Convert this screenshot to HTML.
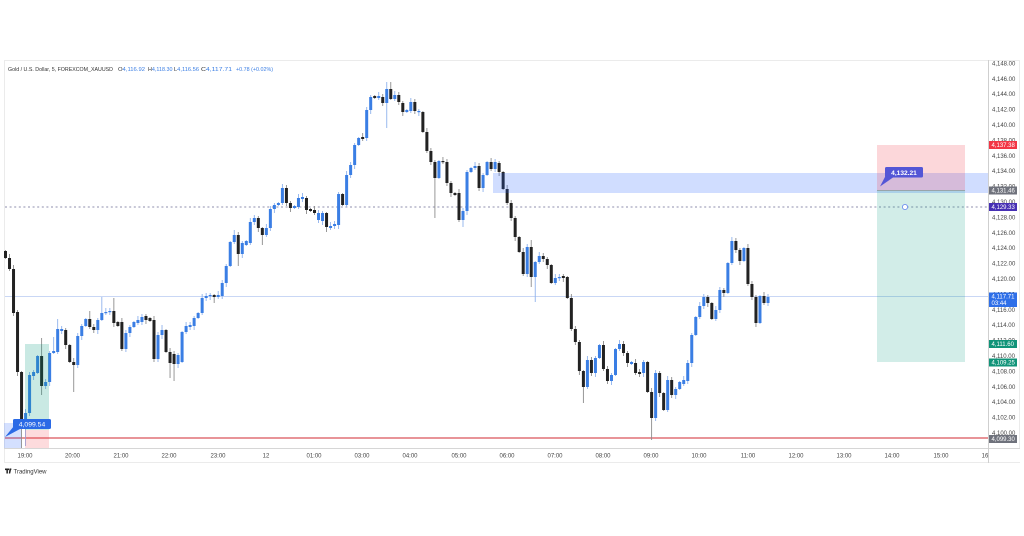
<!DOCTYPE html>
<html>
<head>
<meta charset="utf-8">
<style>
  html,body{margin:0;padding:0;background:#fff;}
  svg{display:block;}
  text{font-family:"Liberation Sans",sans-serif;}
</style>
</head>
<body>
<svg id="chart" width="1024" height="536" viewBox="0 0 1024 536" xmlns="http://www.w3.org/2000/svg">
  <rect x="0" y="0" width="1024" height="536" fill="#ffffff"/>
  <!-- frame -->
  <rect x="4.5" y="60.5" width="1015" height="402" fill="none" stroke="#ebebeb" stroke-width="1"/>
  <line x1="4" y1="448.5" x2="1020" y2="448.5" stroke="#d6d6d6" stroke-width="1"/>
  <line x1="988.5" y1="60" x2="988.5" y2="463" stroke="#cfcfcf" stroke-width="1"/>

  <!-- horizontal lines -->
  <line x1="5" y1="296.5" x2="988" y2="296.5" stroke="#c9d7f5" stroke-width="1"/>
  <line x1="5" y1="207" x2="988" y2="207" stroke="#8f8fae" stroke-width="0.9" stroke-dasharray="2 2.6"/>
  <line x1="5" y1="438" x2="988" y2="438" stroke="#d9545b" stroke-width="1.2"/>

  <!-- candles -->
  <g id="candles"></g>

  <!-- left position tool -->
  <rect x="4" y="423" width="17" height="25" fill="rgba(41,98,255,0.2)"/>
  <rect x="25" y="344" width="24" height="86" fill="rgba(8,153,129,0.22)"/>
  <rect x="25" y="430" width="24" height="18" fill="rgba(242,54,69,0.18)"/>

  <!-- blue zone -->
  <rect x="493" y="173" width="495" height="20" fill="rgba(41,98,255,0.22)"/>

  <!-- risk/reward box -->
  <rect x="877" y="145" width="88" height="45.5" fill="rgba(242,54,69,0.2)"/>
  <rect x="877" y="190.5" width="88" height="171.5" fill="rgba(8,153,129,0.18)"/>
  <line x1="877" y1="190.5" x2="965" y2="190.5" stroke="#8a9a98" stroke-width="0.8"/>
  <circle cx="905" cy="207" r="2.6" fill="#fff" stroke="#6f90ee" stroke-width="0.9"/>

  <!-- callout 4,132.21 -->
  <polygon points="886,175 893,177.5 880,186.5" fill="#5356d6"/>
  <rect x="885" y="167" width="38" height="10.5" rx="1.5" fill="#5356d6"/>
  <text x="904" y="174.8" font-size="6.6" font-weight="bold" fill="#ffffff" text-anchor="middle">4,132.21</text>

  <!-- callout 4,099.54 -->
  <polygon points="14,426 20,429 5,437" fill="#2a6ae6"/>
  <rect x="13" y="419" width="38" height="10" rx="1.5" fill="#2a6ae6"/>
  <text x="32" y="426.6" font-size="6.8" fill="#ffffff" text-anchor="middle">4,099.54</text>

  <!-- title -->
  <text x="8" y="71" font-size="5.6" fill="#333" textLength="105" lengthAdjust="spacingAndGlyphs">Gold / U.S. Dollar, 5, FOREXCOM_XAUUSD</text>
  <text x="118" y="71" font-size="5.6" fill="#333" textLength="27" lengthAdjust="spacingAndGlyphs">O<tspan fill="#3a7ee4">4,116.92</tspan></text>
  <text x="148" y="71" font-size="5.6" fill="#333" textLength="24.5" lengthAdjust="spacingAndGlyphs">H<tspan fill="#3a7ee4">4,118.30</tspan></text>
  <text x="174" y="71" font-size="5.6" fill="#333" textLength="25" lengthAdjust="spacingAndGlyphs">L<tspan fill="#3a7ee4">4,116.56</tspan></text>
  <text x="201" y="71" font-size="5.6" fill="#333" textLength="31" lengthAdjust="spacingAndGlyphs">C<tspan fill="#3a7ee4">4,117.71</tspan></text>
  <text x="236" y="71" font-size="5.6" fill="#3a7ee4" textLength="37" lengthAdjust="spacingAndGlyphs">+0.78 (+0.02%)</text>

  <!-- price axis labels -->
  <g font-size="6" fill="#444">
    <text x="992" y="65.4">4,148.00</text>
    <text x="992" y="80.8">4,146.00</text>
    <text x="992" y="96.2">4,144.00</text>
    <text x="992" y="111.6">4,142.00</text>
    <text x="992" y="127">4,140.00</text>
    <text x="992" y="142.4">4,138.00</text>
    <text x="992" y="157.8">4,136.00</text>
    <text x="992" y="173.2">4,134.00</text>
    <text x="992" y="188.6">4,132.00</text>
    <text x="992" y="204">4,130.00</text>
    <text x="992" y="219.4">4,128.00</text>
    <text x="992" y="234.8">4,126.00</text>
    <text x="992" y="250.2">4,124.00</text>
    <text x="992" y="265.6">4,122.00</text>
    <text x="992" y="281">4,120.00</text>
    <text x="992" y="296.4">4,118.00</text>
    <text x="992" y="311.8">4,116.00</text>
    <text x="992" y="327.2">4,114.00</text>
    <text x="992" y="342.6">4,112.00</text>
    <text x="992" y="358">4,110.00</text>
    <text x="992" y="373.4">4,108.00</text>
    <text x="992" y="388.8">4,106.00</text>
    <text x="992" y="404.2">4,104.00</text>
    <text x="992" y="419.6">4,102.00</text>
    <text x="992" y="435">4,100.00</text>
  </g>

  <!-- price tags -->
  <g font-size="6" fill="#fff">
    <rect x="989" y="141" width="28" height="8" fill="#f23645"/>
    <text x="991.5" y="147.2">4,137.38</text>
    <rect x="989" y="186.5" width="28" height="8" fill="#6f727c"/>
    <text x="991.5" y="192.7">4,131.46</text>
    <rect x="989" y="203" width="28" height="8" fill="#4630b4"/>
    <text x="991.5" y="209.2">4,129.33</text>
    <rect x="989" y="292.5" width="28" height="14.5" fill="#2f6fe8"/>
    <text x="991.5" y="298.6">4,117.71</text>
    <text x="991.5" y="305.2">03:44</text>
    <rect x="989" y="340" width="28" height="8" fill="#119479"/>
    <text x="991.5" y="346.2">4,111.60</text>
    <rect x="989" y="358.5" width="28" height="8" fill="#119479"/>
    <text x="991.5" y="364.7">4,109.25</text>
    <rect x="989" y="435" width="28" height="8" fill="#6f727c"/>
    <text x="991.5" y="441.2">4,099.30</text>
  </g>

  <!-- time axis -->
  <g font-size="6" fill="#444" text-anchor="middle">
    <text x="25" y="457.5">19:00</text>
    <text x="72.5" y="457.5">20:00</text>
    <text x="121" y="457.5">21:00</text>
    <text x="169" y="457.5">22:00</text>
    <text x="218" y="457.5">23:00</text>
    <text x="266" y="457.5">12</text>
    <text x="314" y="457.5">01:00</text>
    <text x="362" y="457.5">03:00</text>
    <text x="410" y="457.5">04:00</text>
    <text x="459" y="457.5">05:00</text>
    <text x="507" y="457.5">06:00</text>
    <text x="555" y="457.5">07:00</text>
    <text x="603" y="457.5">08:00</text>
    <text x="651" y="457.5">09:00</text>
    <text x="699" y="457.5">10:00</text>
    <text x="748" y="457.5">11:00</text>
    <text x="796" y="457.5">12:00</text>
    <text x="844" y="457.5">13:00</text>
    <text x="892" y="457.5">14:00</text>
    <text x="941" y="457.5">15:00</text>
    <text x="985" y="457.5">16</text>
  </g>
  <rect x="989" y="449" width="31" height="13" fill="#fff"/>

  <!-- TradingView logo -->
  <g fill="#222">
    <rect x="5" y="468.5" width="4" height="1.6"/>
    <rect x="6.4" y="468.5" width="1.5" height="5"/>
    <polygon points="9.5,468.5 11.3,468.5 10.2,473.5 8.8,473.5"/>
    <circle cx="10.6" cy="469.2" r="0.8"/>
  </g>
  <text x="13.5" y="473.5" font-size="6" fill="#333">TradingView</text>
</svg>
<script>
(function(){
  var u='u',d='d',n=null;
  var D=[
[251,258,d],[258,269,d],[269,313,d,265],[312,372,d],[372,422,d,n,448],[413,422,u,n,446],[375,413,u],[372,376,u],[356,373,u],[356,386,d,338,395],
[382,386,u],[353,382,u],[351,353,u,337],[329,352,u,319],[329,331,u],[330,345,d],[345,362,d],[362,365,d,n,392],[336,365,u],[326,336,u],
[319,326,u],[319,327,d,311],[327,330,d],[320,330,u],[313,320,u,297],[312,313,u],[311,312,u],[311,323,d,298],[322,326,d],[322,349,d],
[333,349,u],[327,333,u],[322,327,u],[320,323,u],[317,322,u],[316,320,d],[318,321,d],[320,359,d,n,362],[335,359,u],[330,335,u,325],
[330,352,d],[352,363,d,n,378],[354,364,d,n,381],[355,364,u],[332,362,u],[326,332,u],[325,327,u],[318,326,u],[313,318,u],[298,313,u],
[296,298,u],[295,296,u],[295,297,d,n,303],[295,297,u],[283,296,u],[266,283,u],[242,266,u],[235,242,u,230],[235,254,d,n,266],[243,254,u],
[241,245,u],[222,243,u],[218,222,u],[218,228,d],[228,235,d,n,245],[228,235,u],[209,228,u],[205,209,u],[203,205,u],[188,203,u],
[188,203,d],[203,208,d],[206,208,u],[198,207,u],[197,199,u,193],[198,210,d],[209,211,d],[210,213,d],[213,220,u],[213,221,u],
[213,227,d,n,232],[226,228,u],[224,226,u],[194,225,u],[194,205,d],[175,205,u],[165,175,u],[145,165,u],[138,145,u],[137,139,d],
[110,138,u],[97,110,u],[96,98,d],[96,98,u],[97,103,d],[89,103,u,82,128],[89,99,d,82],[95,99,u],[95,102,d],[103,112,d],
[110,112,u],[102,111,u],[102,111,d],[111,112,u],[112,132,d],[132,151,d],[151,162,d],[162,178,d,n,218],[161,178,u],[161,162,d],
[162,183,d],[183,193,d],[193,195,d],[193,220,d],[211,220,u,n,227],[172,211,u],[168,172,u],[166,168,u],[166,188,d],[175,188,u],
[162,175,u],[162,169,d],[162,169,u],[163,172,d],[172,189,d],[189,203,d],[203,218,d],[218,237,d],[237,252,d],[252,274,d],
[247,274,u],[247,277,d,240,287],[262,277,u,n,302],[256,262,u],[256,259,d],[259,265,d],[265,283,d],[278,283,u],[277,278,u],[276,278,d],
[277,298,d],[298,329,d],[329,342,d],[342,371,d],[371,387,d,n,403],[360,387,u],[360,373,d],[358,373,u],[345,358,u],[345,369,d],
[369,381,d],[375,381,u],[349,375,u],[344,349,u],[344,353,d],[353,363,d],[362,364,u],[363,373,d],[372,374,d],[362,373,u],
[362,392,d],[392,418,d,n,440],[373,418,u],[373,393,d],[393,410,d],[380,410,u],[380,395,d],[389,395,u],[382,389,u],[380,384,u],
[363,381,u],[335,363,u],[317,335,u],[306,317,u],[297,306,u],[297,303,d],[303,319,d],[310,319,u],[290,310,u],[290,293,d],
[263,293,u],[241,263,u],[241,250,d],[250,261,d],[248,261,u],[248,284,d],[284,297,d],[297,323,d],[296,323,u],[296,303,d],[297,303,u]
  ];
  var NS='http://www.w3.org/2000/svg';
  var g=document.getElementById('candles');
  var N=D.length,x0=5.5,x1=768,sp=(x1-x0)/(N-1);
  for(var i=0;i<N;i++){
    var c=D[i],x=x0+i*sp,t=c[0],b=c[1],up=c[2]==='u';
    var h=Math.max(b-t,1.2);
    var wt=(c[3]!=null)?c[3]:t-1-((i*7)%4);
    var wb=(c[4]!=null)?c[4]:b+1+((i*13)%4);
    var ln=document.createElementNS(NS,'line');
    ln.setAttribute('x1',x);ln.setAttribute('x2',x);
    ln.setAttribute('y1',wt);ln.setAttribute('y2',wb);
    ln.setAttribute('stroke',up?'#8fb2ec':'#8c8c8c');
    ln.setAttribute('stroke-width','0.9');
    g.appendChild(ln);
    var r=document.createElementNS(NS,'rect');
    r.setAttribute('x',x-1.5);r.setAttribute('y',t);
    r.setAttribute('width',3);r.setAttribute('height',h);
    r.setAttribute('fill',up?'#3a7ee4':'#222222');
    g.appendChild(r);
  }
})();
</script>
</body>
</html>
